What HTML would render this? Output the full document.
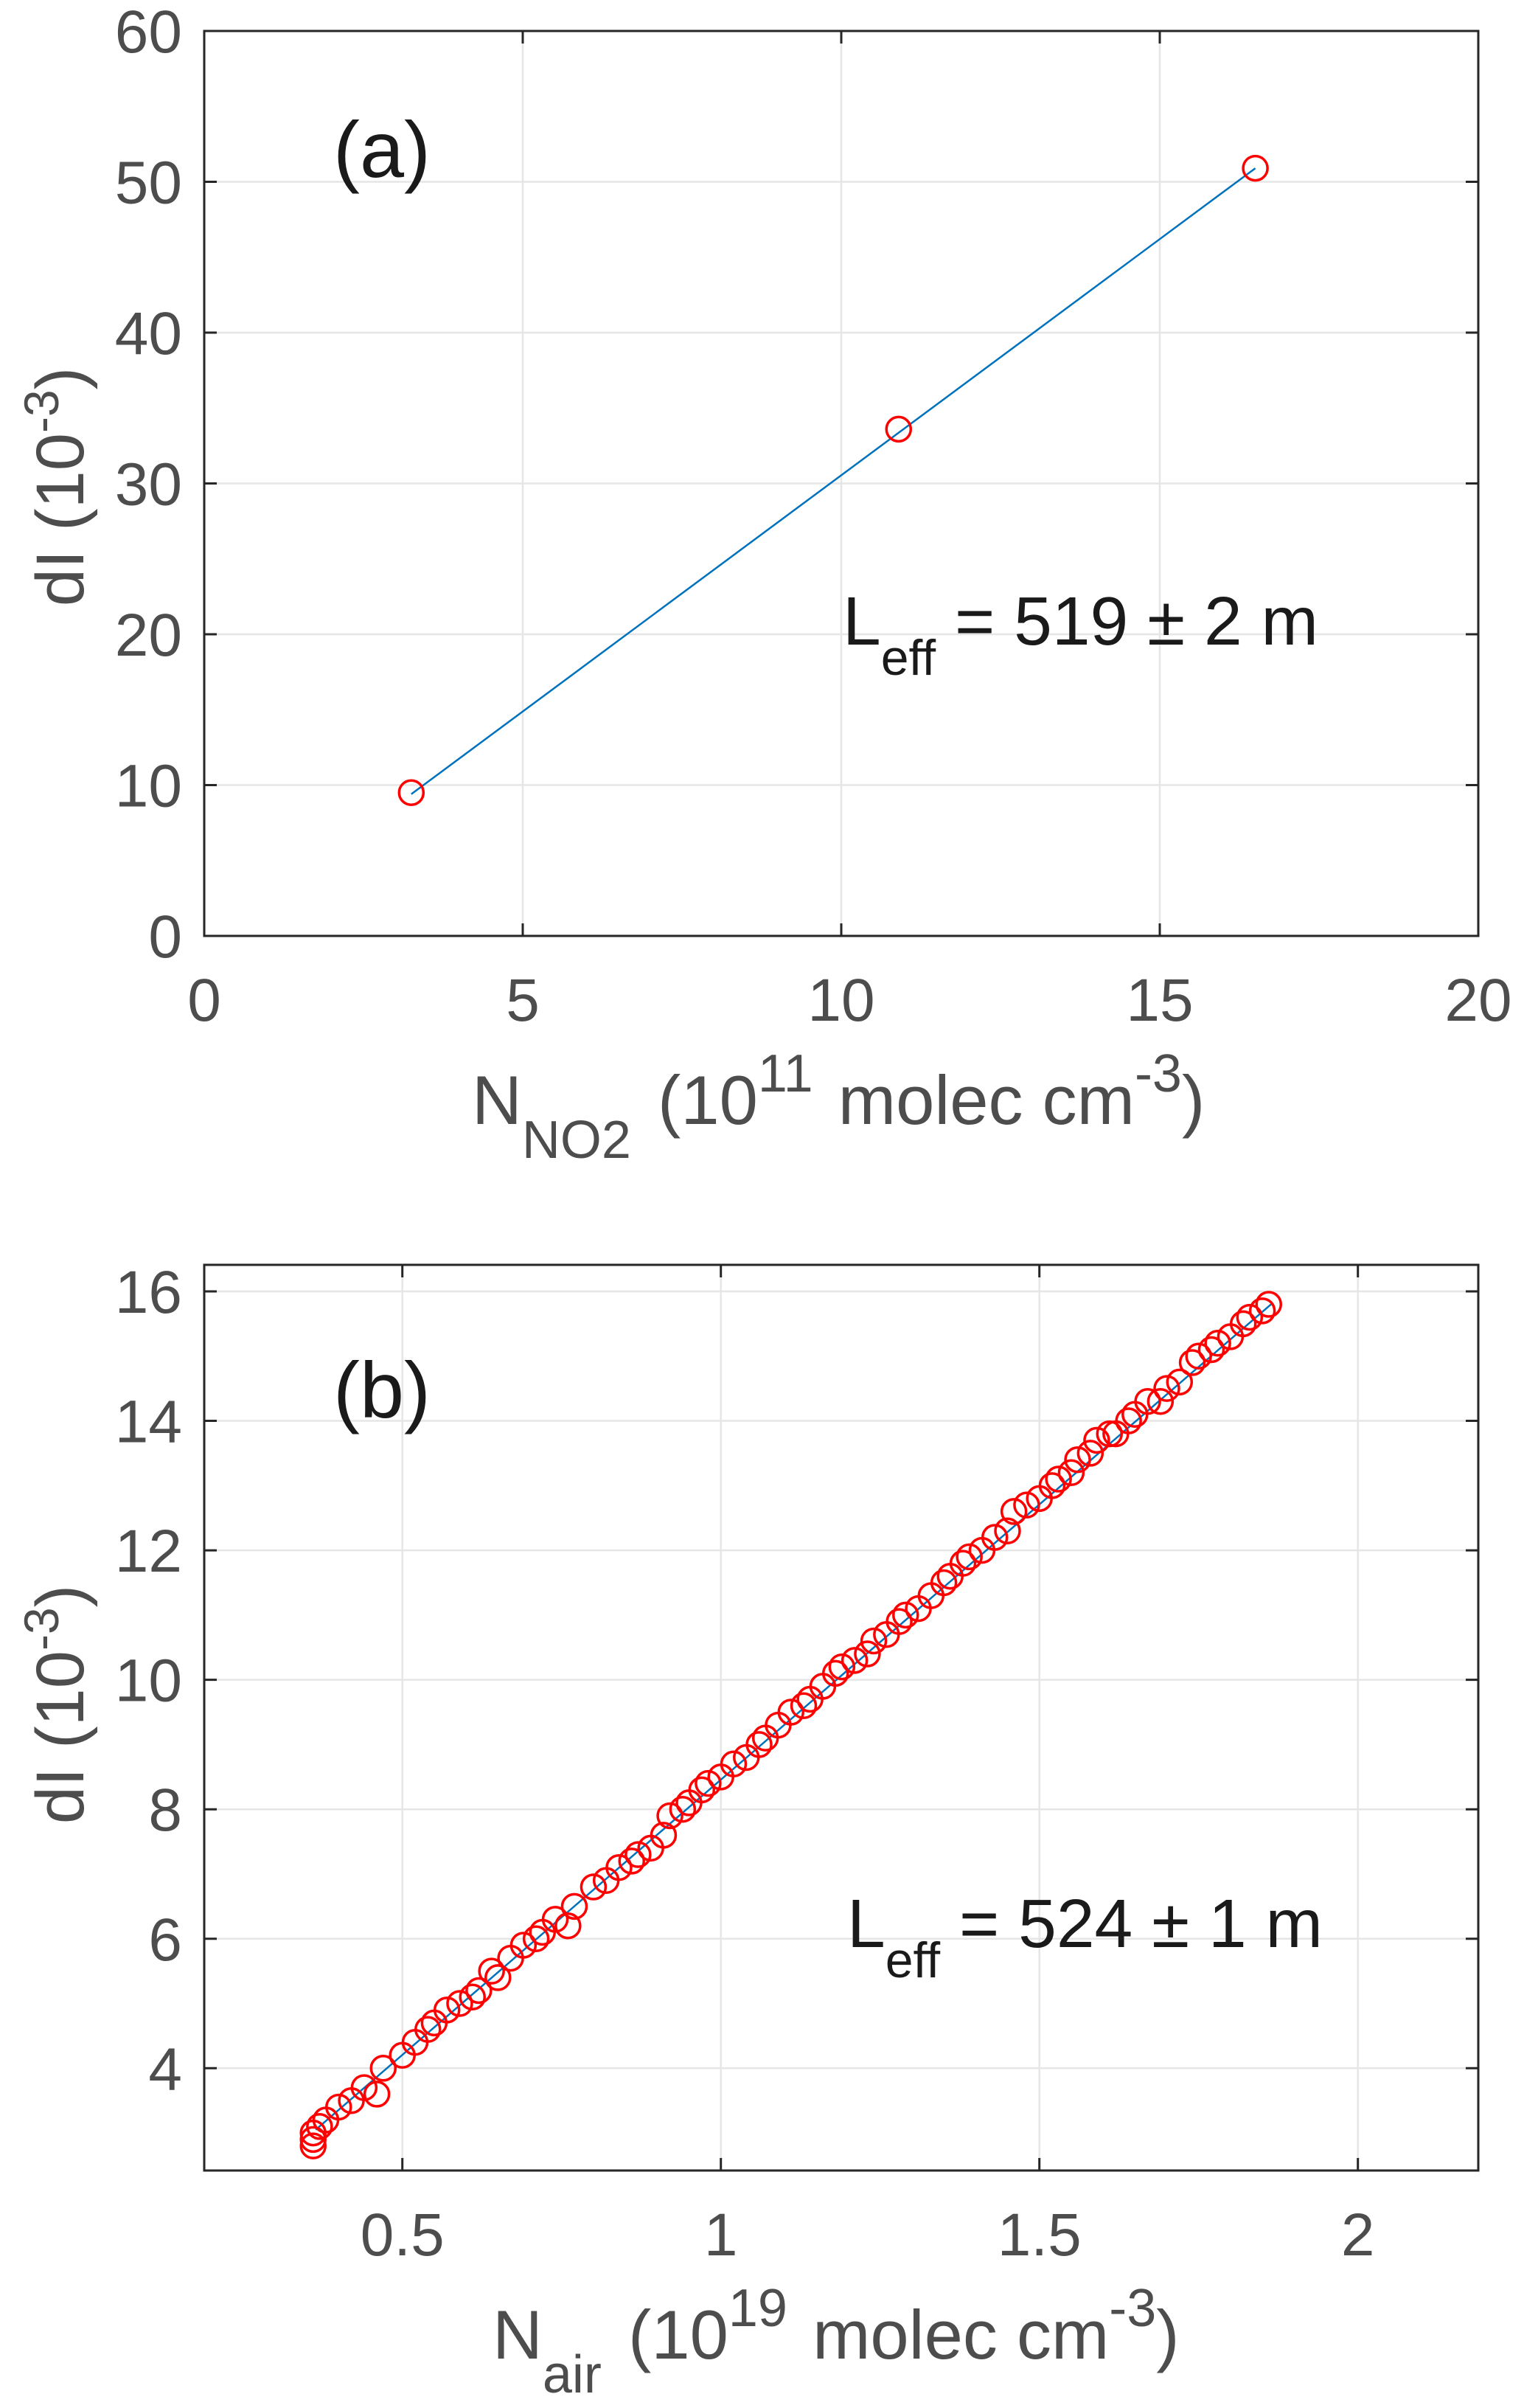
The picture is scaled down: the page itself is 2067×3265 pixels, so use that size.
<!DOCTYPE html>
<html><head><meta charset="utf-8"><style>
html,body{margin:0;padding:0;background:#fff;}
svg{display:block;font-family:"Liberation Sans",Arial,sans-serif;}
</style></head><body>
<svg id="fig" width="2067" height="3265" viewBox="0 0 2067 3265" xmlns="http://www.w3.org/2000/svg">
<rect width="2067" height="3265" fill="#fff"/>
<g id="pa"></g>
<g id="pb"></g>
</svg>
<script>
const aX = [3.25, 10.9, 16.5];
const aY = [9.5, 33.6, 50.9];
const aFitX = [3.25, 16.5];
const aFitY = [9.4, 50.9];
const aXTicks = [0, 5, 10, 15, 20];
const aYTicks = [0, 10, 20, 30, 40, 50, 60];

const bX = [0.36,0.36,0.36,0.37,0.38,0.40,0.42,0.44,0.46,0.47,0.50,0.52,0.54,0.55,0.57,0.59,0.61,0.62,0.64,0.65,0.67,0.69,0.71,0.72,0.74,0.76,0.77,0.80,0.82,0.84,0.86,0.87,0.89,0.91,0.92,0.94,0.95,0.97,0.98,1.00,1.02,1.04,1.06,1.07,1.09,1.11,1.13,1.14,1.16,1.18,1.19,1.21,1.23,1.24,1.26,1.28,1.29,1.31,1.33,1.35,1.36,1.38,1.39,1.41,1.43,1.45,1.46,1.48,1.50,1.52,1.53,1.55,1.56,1.58,1.59,1.61,1.62,1.64,1.65,1.67,1.69,1.70,1.72,1.74,1.75,1.77,1.78,1.80,1.82,1.83,1.85,1.86];
const bY = [2.8,2.9,3.0,3.1,3.2,3.4,3.5,3.7,3.6,4.0,4.2,4.4,4.6,4.7,4.9,5.0,5.1,5.2,5.5,5.4,5.7,5.9,6.0,6.1,6.3,6.2,6.5,6.8,6.9,7.1,7.2,7.3,7.4,7.6,7.9,8.0,8.1,8.3,8.4,8.5,8.7,8.8,9.0,9.1,9.3,9.5,9.6,9.7,9.9,10.1,10.2,10.3,10.4,10.6,10.7,10.9,11.0,11.1,11.3,11.5,11.6,11.8,11.9,12.0,12.2,12.3,12.6,12.7,12.8,13.0,13.1,13.2,13.4,13.5,13.7,13.8,13.8,14.0,14.1,14.3,14.3,14.5,14.6,14.9,15.0,15.1,15.2,15.3,15.5,15.6,15.7,15.8];
const bFitX = [0.364, 1.866];
const bFitY = [3.05, 15.82];
const bXTicks = [0.5, 1, 1.5, 2];
const bXTickLabels = ["0.5", "1", "1.5", "2"];
const bYTicks = [4, 6, 8, 10, 12, 14, 16];

const NS = "http://www.w3.org/2000/svg";
function mk(parent, tag, attrs, text) {
  const e = document.createElementNS(NS, tag);
  for (const k in attrs) e.setAttribute(k, attrs[k]);
  if (text !== undefined) e.textContent = text;
  parent.appendChild(e);
  return e;
}

function drawPanel(g, cfg) {
  const L = 277, R = 2005, T = cfg.top, B = cfg.bottom;
  const sx = v => L + (v - cfg.xmin) / (cfg.xmax - cfg.xmin) * (R - L);
  const sy = v => B - (v - cfg.ymin) / (cfg.ymax - cfg.ymin) * (B - T);
  cfg.xt.forEach(v => {
    const gl = mk(g, "line", {x1: sx(v), x2: sx(v), y1: T, y2: B, stroke: "#e6e6e6", "stroke-width": 2.5});
    
    
  });
  cfg.yt.forEach(v => {
    const gl = mk(g, "line", {x1: L, x2: R, y1: sy(v), y2: sy(v), stroke: "#e6e6e6", "stroke-width": 2.5});
    
    
  });
  const fl = mk(g, "line", {x1: sx(cfg.fx[0]), y1: sy(cfg.fy[0]), x2: sx(cfg.fx[1]), y2: sy(cfg.fy[1]), stroke: "#0072bd", "stroke-width": 2.5});
  
  
  cfg.px.forEach((v, i) => {
    const c = mk(g, "circle", {cx: sx(v), cy: sy(cfg.py[i]), r: 16.5, fill: "none", stroke: "#ff0000", "stroke-width": 3.5});
    
    
  });
  const box = mk(g, "rect", {x: L, y: T, width: R - L, height: B - T, fill: "none", stroke: "#262626", "stroke-width": 3});
  
  
  cfg.xt.forEach((v, i) => {
    mk(g, "line", {x1: sx(v), x2: sx(v), y1: B, y2: B - 17, stroke: "#262626", "stroke-width": 3});
    mk(g, "line", {x1: sx(v), x2: sx(v), y1: T, y2: T + 17, stroke: "#262626", "stroke-width": 3});
    const t = mk(g, "text", {x: sx(v), y: B + 115, "text-anchor": "middle", "font-size": 82, fill: "#4d4d4d"}, cfg.xl[i]);
    
    
  });
  cfg.yt.forEach(v => {
    mk(g, "line", {x1: L, x2: L + 17, y1: sy(v), y2: sy(v), stroke: "#262626", "stroke-width": 3});
    mk(g, "line", {x1: R, x2: R - 17, y1: sy(v), y2: sy(v), stroke: "#262626", "stroke-width": 3});
    const t = mk(g, "text", {x: 247, y: sy(v) + 29, "text-anchor": "end", "font-size": 82, fill: "#4d4d4d"}, String(v));
    
    
  });
}

const pa = document.getElementById("pa");
drawPanel(pa, {top: 42, bottom: 1269, xmin: 0, xmax: 20, ymin: 0, ymax: 60,
  xt: aXTicks, xl: aXTicks.map(String), yt: aYTicks, px: aX, py: aY, fx: aFitX, fy: aFitY});
const pb = document.getElementById("pb");
drawPanel(pb, {top: 1715, bottom: 2943, xmin: 0.189, xmax: 2.189, ymin: 2.42, ymax: 16.41,
  xt: bXTicks, xl: bXTickLabels, yt: bYTicks, px: bX, py: bY, fx: bFitX, fy: bFitY});

function yLabel(g, cy) {
  const t = mk(g, "text", {transform: "translate(113," + cy + ") rotate(-90)", "text-anchor": "middle", "font-size": 92, fill: "#4d4d4d"});
  
  
  mk(t, "tspan", {}, "dI (10");
  mk(t, "tspan", {dy: -34, "font-size": 66}, "-3");
  mk(t, "tspan", {dy: 34}, ")");
}
yLabel(pa, 660);
yLabel(pb, 2311);

const xa = mk(pa, "text", {x: 640, y: 1524, "font-size": 94, fill: "#4d4d4d"});


mk(xa, "tspan", {}, "N");
mk(xa, "tspan", {dy: 46, "font-size": 72}, "NO2");
mk(xa, "tspan", {dy: -46, dx: 10}, " (10");
mk(xa, "tspan", {dy: -44, "font-size": 72}, "11");
mk(xa, "tspan", {dy: 44, dx: 8}, " molec cm");
mk(xa, "tspan", {dy: -44, "font-size": 72}, "-3");
mk(xa, "tspan", {dy: 44}, ")");

const xb = mk(pb, "text", {x: 668, y: 3198, "font-size": 94, fill: "#4d4d4d"});


mk(xb, "tspan", {}, "N");
mk(xb, "tspan", {dy: 46, "font-size": 72}, "air");
mk(xb, "tspan", {dy: -46, dx: 10}, " (10");
mk(xb, "tspan", {dy: -44, "font-size": 72}, "19");
mk(xb, "tspan", {dy: 44, dx: 8}, " molec cm");
mk(xb, "tspan", {dy: -44, "font-size": 72}, "-3");
mk(xb, "tspan", {dy: 44}, ")");

const la = mk(pa, "text", {x: 452, y: 240, "font-size": 108, fill: "#1a1a1a"}, "(a)");


const lb = mk(pb, "text", {x: 452, y: 1922, "font-size": 108, fill: "#1a1a1a"}, "(b)");



function leff(g, x, y, txt) {
  const t = mk(g, "text", {x: x, y: y, "font-size": 93, fill: "#1a1a1a"});
  
  
  mk(t, "tspan", {}, "L");
  mk(t, "tspan", {dy: 41, "font-size": 68}, "eff");
  mk(t, "tspan", {dy: -41}, " = " + txt);
}
leff(pa, 1143, 874, "519 ± 2 m");
leff(pb, 1149, 2640, "524 ± 1 m");
</script>
</body></html>
